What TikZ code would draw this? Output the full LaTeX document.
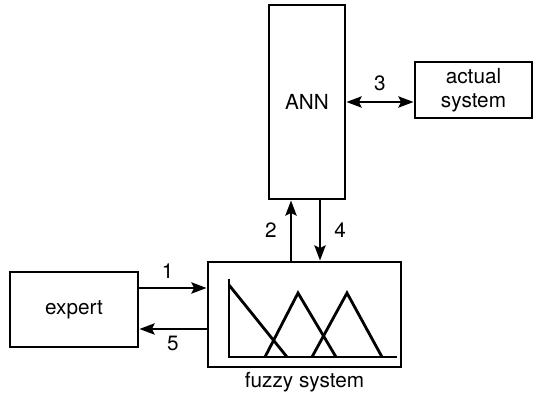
\documentclass[tikz,border=0pt]{standalone}
\usepackage{fontspec}
\setmainfont{TeX Gyre Heros}
\usetikzlibrary{arrows.meta,positioning,calc}

\begin{document}
\begin{tikzpicture}[
    font=\fontsize{11.8}{13.5}\selectfont,
    line width=1.6pt,
    block/.style={draw, inner sep=0pt, align=center},
    arrow/.style={-{Stealth[length=3mm,width=2.2mm,inset=0.5mm]}},
    twoway/.style={{Stealth[length=3mm,width=2.2mm,inset=0.5mm]}-{Stealth[length=3mm,width=2.2mm,inset=0.5mm]}}
  ]
    \useasboundingbox (0,0) rectangle (10.7,7.88);

    \node[block, minimum width=1.52cm, minimum height=3.88cm] (ann) at (6.14,5.84) {ANN};
    \node[block, minimum width=2.34cm, minimum height=1.12cm] (actual) at (9.47,6.08) {actual\\system};
    \node[block, minimum width=3.86cm, minimum height=2.10cm] (fuzzy) at (6.09,1.59) {};
    \node[below=-2pt of fuzzy] (fuzzylabel) {fuzzy system};
    \node[block, minimum width=2.56cm, minimum height=1.50cm] (expert) at (1.48,1.69) {expert};

    % membership functions
    \draw (4.58,2.30) -- (4.58,0.74) -- (7.94,0.74);
    \draw (4.58,2.18) -- (5.74,0.74);
    \draw (5.30,0.74) -- (5.96,2.02) -- (6.72,0.74);
    \draw (6.24,0.74) -- (6.94,2.02) -- (7.64,0.74);

    % connection points
    \coordinate (up) at ([xshift=-0.32cm]ann.south);
    \coordinate (down) at ([xshift=0.26cm]ann.south);
    \coordinate (toin) at ([yshift=0.43cm]expert.east);
    \coordinate (toout) at ([yshift=-0.39cm]expert.east);

    \draw[twoway] (ann.east) -- node[above=2pt] {3} (actual.west |- ann.east);
    \draw[arrow] (fuzzy.north -| up) -- node[left=4pt] {2} (up);
    \draw[arrow] (down) -- node[right=4pt] {4} (fuzzy.north -| down);
    \draw[arrow] (toin) -- node[above=1pt, xshift=-3pt] {1} (fuzzy.west |- toin);
    \draw[arrow] (fuzzy.west |- toout) -- node[below=0pt] {5} (toout);
  \end{tikzpicture}
\end{document}
